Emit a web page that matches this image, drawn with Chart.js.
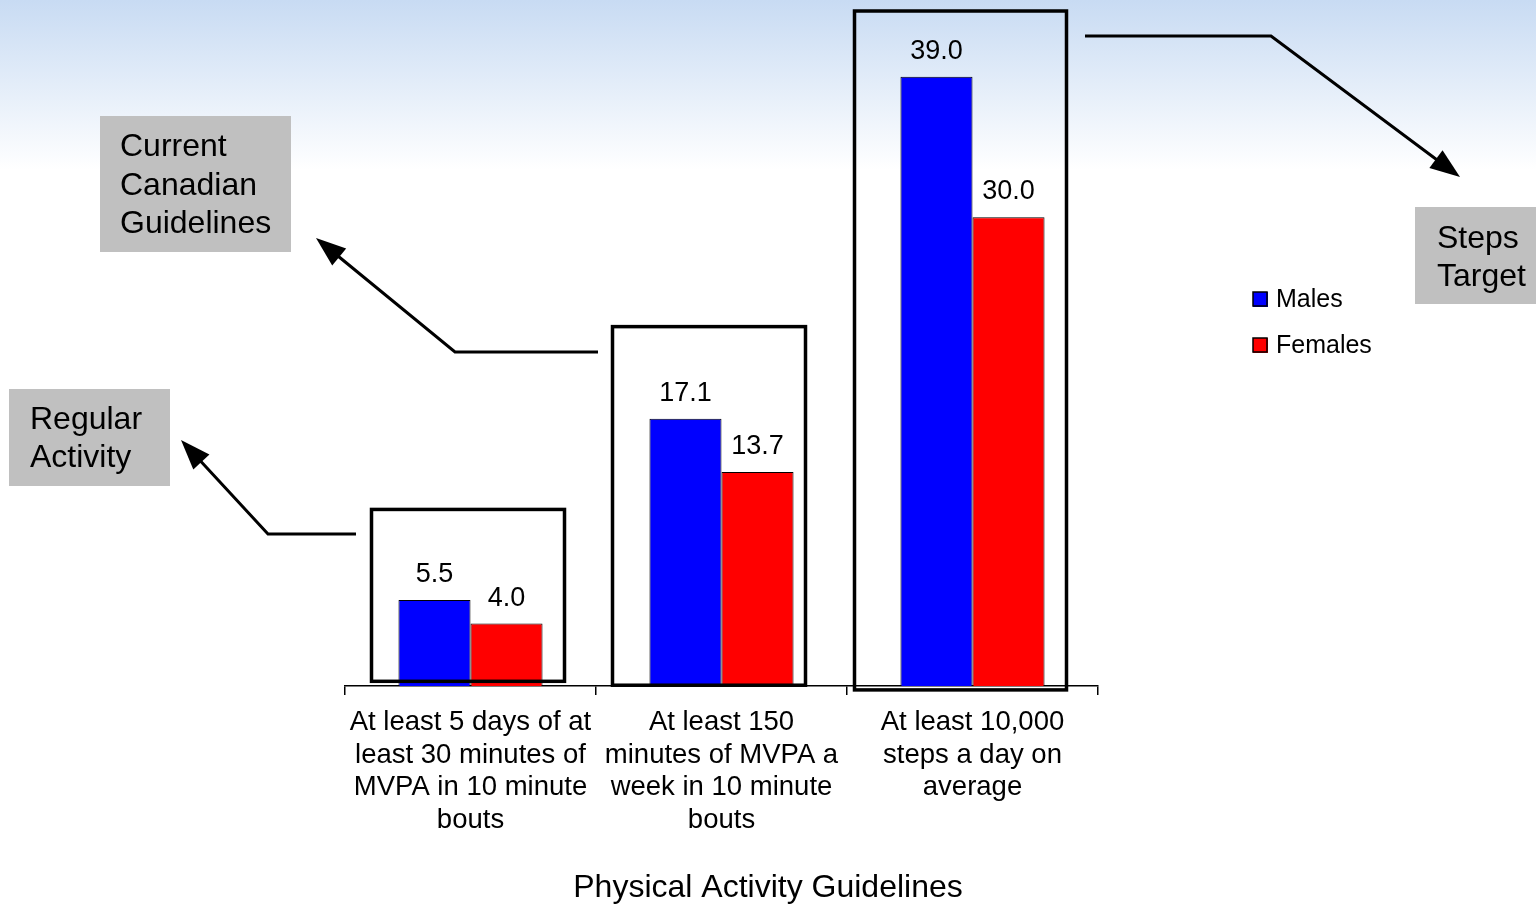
<!DOCTYPE html>
<html>
<head>
<meta charset="utf-8">
<script src="https://cdn.jsdelivr.net/npm/chart.js@4.4.1/dist/chart.umd.min.js"></script>
<style>
html, body { margin: 0; padding: 0; background: #fff; }
#wrap { width: 1536px; height: 905px; position: relative; }
</style>
</head>
<body>
<div id="wrap"><canvas id="chart"></canvas></div>
<script>
// ---- data ----
const categories = [
    ['At least 5 days of at', 'least 30 minutes of', 'MVPA in 10 minute', 'bouts'],
    ['At least 150', 'minutes of MVPA a', 'week in 10 minute', 'bouts'],
    ['At least 10,000', 'steps a day on', 'average']
];
const males = [5.5, 17.1, 39.0];
const females = [4.0, 13.7, 30.0];
const seriesNames = ['Males', 'Females'];
const axisTitle = 'Physical Activity Guidelines';
const calloutTexts = [
    ['Regular', 'Activity'],
    ['Current', 'Canadian', 'Guidelines'],
    ['Steps', 'Target']
];

const FONT = '"Liberation Sans", Arial, Helvetica, sans-serif';

// outline boxes drawn round each category group (value units for top/bottom)
const groupBoxes = [
    { left: -99, right: 94, top: 11.3, bottom: 0.3 },
    { left: -109, right: 84, top: 23.0, bottom: 0.05 },
    { left: -118, right: 94, top: 43.2, bottom: -0.25 }
];

// gray callout boxes and their arrows (page pixels)
const callouts = [
    { x: 9, y: 389, w: 161, h: 97, tx: 30, ty: 420, arrow: [[356, 534], [268, 534], [181, 440]] },
    { x: 100, y: 116, w: 191, h: 136, tx: 120, ty: 147.5, arrow: [[598, 352], [455, 352], [316, 238]] },
    { x: 1415, y: 207, w: 121, h: 97, tx: 1437, ty: 239, arrow: [[1085, 36], [1271, 36], [1460, 177]] }
];

function drawArrow(ctx, pts) {
    const n = pts.length;
    const [tx, ty] = pts[n - 1];
    const [px, py] = pts[n - 2];
    const ang = Math.atan2(ty - py, tx - px);
    const headLen = 30, headHalf = 11;
    const bx = tx - Math.cos(ang) * headLen;
    const by = ty - Math.sin(ang) * headLen;
    ctx.save();
    ctx.strokeStyle = '#000';
    ctx.lineWidth = 3;
    ctx.lineJoin = 'miter';
    ctx.beginPath();
    ctx.moveTo(pts[0][0], pts[0][1]);
    for (let i = 1; i < n - 1; i++) ctx.lineTo(pts[i][0], pts[i][1]);
    ctx.lineTo(bx + Math.cos(ang) * 4, by + Math.sin(ang) * 4);
    ctx.stroke();
    ctx.fillStyle = '#000';
    ctx.beginPath();
    ctx.moveTo(tx, ty);
    ctx.lineTo(bx - Math.sin(ang) * headHalf, by + Math.cos(ang) * headHalf);
    ctx.lineTo(bx + Math.sin(ang) * headHalf, by - Math.cos(ang) * headHalf);
    ctx.closePath();
    ctx.fill();
    ctx.restore();
}

const decorPlugin = {
    id: 'decor',
    beforeDraw(chart) {
        const ctx = chart.ctx;
        const g = ctx.createLinearGradient(0, 0, 0, 170);
        g.addColorStop(0, '#c8dbf3');
        g.addColorStop(1, '#ffffff');
        ctx.save();
        ctx.fillStyle = '#fff';
        ctx.fillRect(0, 0, chart.width, chart.height);
        ctx.fillStyle = g;
        ctx.fillRect(0, 0, chart.width, 170);
        ctx.restore();
    },
    afterDatasetsDraw(chart) {
        const ctx = chart.ctx;
        const xs = chart.scales.x, ys = chart.scales.y;
        ctx.save();
        // value labels
        ctx.font = '27px ' + FONT;
        ctx.fillStyle = '#000';
        ctx.textAlign = 'center';
        ctx.textBaseline = 'alphabetic';
        chart.data.datasets.forEach((ds, di) => {
            chart.getDatasetMeta(di).data.forEach((bar, i) => {
                ctx.fillText(ds.data[i].toFixed(1), bar.x, bar.y - 18);
            });
        });
        // group outline boxes
        ctx.strokeStyle = '#000';
        ctx.lineWidth = 3.5;
        groupBoxes.forEach((b, i) => {
            const cx = xs.getPixelForValue(i);
            const top = ys.getPixelForValue(b.top);
            const bottom = ys.getPixelForValue(b.bottom);
            ctx.strokeRect(cx + b.left, top, b.right - b.left, bottom - top);
        });
        ctx.restore();
    },
    afterDraw(chart) {
        const ctx = chart.ctx;
        ctx.save();
        // axis title (sits right of the plot centre in the original)
        ctx.font = '32px ' + FONT;
        ctx.fillStyle = '#000';
        ctx.textAlign = 'center';
        ctx.textBaseline = 'middle';
        ctx.fillText(axisTitle, 768, 888);
        // legend
        ctx.font = '25px ' + FONT;
        ctx.textAlign = 'left';
        chart.data.datasets.forEach((ds, i) => {
            const y = 299 + i * 46;
            ctx.fillStyle = ds.backgroundColor;
            ctx.fillRect(1253, y - 7, 15, 15);
            ctx.strokeStyle = '#000';
            ctx.lineWidth = 1.5;
            ctx.strokeRect(1253, y - 7, 14, 14);
            ctx.fillStyle = '#000';
            ctx.fillText(ds.label, 1276, y + 1);
        });
        // callouts
        ctx.font = '32px ' + FONT;
        callouts.forEach((c, i) => {
            ctx.fillStyle = '#c0c0c0';
            ctx.fillRect(c.x, c.y, c.w, c.h);
            ctx.fillStyle = '#000';
            calloutTexts[i].forEach((line, j) => {
                ctx.fillText(line, c.tx, c.ty + j * 38.5);
            });
            drawArrow(ctx, c.arrow);
        });
        ctx.restore();
    }
};

new Chart(document.getElementById('chart'), {
    type: 'bar',
    data: {
        labels: categories,
        datasets: [
            { label: seriesNames[0], data: males, backgroundColor: '#0000ff', borderColor: '#000', borderWidth: 1 },
            { label: seriesNames[1], data: females, backgroundColor: '#ff0000', borderColor: '#000', borderWidth: 1 }
        ]
    },
    options: {
        responsive: true,
        maintainAspectRatio: false,
        animation: false,
        events: [],
        layout: { padding: { left: 345, right: 438, top: 61, bottom: 0 } },
        datasets: { bar: { categoryPercentage: 0.574, barPercentage: 1 } },
        plugins: {
            legend: { display: false },
            tooltip: { enabled: false }
        },
        scales: {
            y: { display: false, min: 0, max: 40 },
            x: {
                afterFit(scale) { scale.height = 219; },
                grid: {
                    display: true,
                    drawOnChartArea: false,
                    drawTicks: true,
                    tickLength: 9,
                    color: '#000',
                    lineWidth: 1.5
                },
                border: { display: true, color: '#000', width: 1.5 },
                ticks: {
                    color: '#000',
                    autoSkip: false,
                    maxRotation: 0,
                    padding: 11,
                    font: { family: FONT, size: 27.5, lineHeight: 1.19 }
                },
                title: { display: false, text: axisTitle }
            }
        }
    },
    plugins: [decorPlugin]
});
</script>
</body>
</html>
